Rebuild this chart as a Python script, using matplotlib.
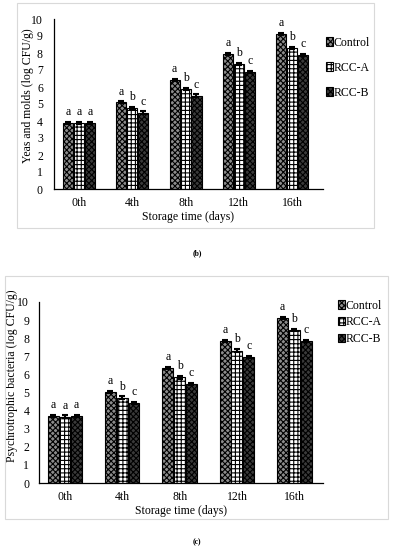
import matplotlib
matplotlib.use("Agg")
import matplotlib.pyplot as plt
from matplotlib.patches import Rectangle
import numpy as np

plt.rcParams['font.family'] = ['Liberation Serif', 'DejaVu Serif']
plt.rcParams['hatch.linewidth'] = 0.8

categories = ["0th", "4th", "8th", "12th", "16th"]
series = ["Control", "RCC-A", "RCC-B"]

yeast_control = [3.91, 5.09, 6.42, 7.95, 9.12]
yeast_rcca = [3.90, 4.79, 5.87, 7.36, 8.28]
yeast_rccb = [3.88, 4.50, 5.50, 6.91, 7.90]
yeast_err = [0.06, 0.06, 0.06, 0.06, 0.06]

psy_control = [3.68, 5.04, 6.37, 7.84, 9.13]
psy_rcca = [3.67, 4.72, 5.83, 7.32, 8.45]
psy_rccb = [3.68, 4.43, 5.48, 6.97, 7.84]
psy_err = [0.06, 0.06, 0.06, 0.06, 0.06]

letters = [["a", "a", "a", "a", "a"],
           ["a", "b", "b", "b", "b"],
           ["a", "c", "c", "c", "c"]]

W, H = 394, 550
fig = plt.figure(figsize=(W / 100, H / 100), dpi=100)

def px_axes(l, t, r, b):
    return fig.add_axes([l / W, 1 - b / H, (r - l) / W, (b - t) / H])

def frame(l, t, r, b):
    fig.patches.append(Rectangle((l / W, 1 - b / H), (r - l) / W, (b - t) / H,
                                 transform=fig.transFigure, fill=False,
                                 edgecolor='#d9d9d9', linewidth=0.8))

styles = [dict(facecolor='#8c8c8c', hatch='xxxxxx'),
          dict(facecolor='white', hatch='++++'),
          dict(facecolor='#3a3a3a', hatch='xxxxxx')]

FS = 8.5

def draw(ax, vals, err, ylabel, xlim, ypad):
    x = np.arange(len(categories))
    bw = 0.19
    gap = 0.015
    handles = []
    for i, v in enumerate(vals):
        off = (i - 1) * (bw + gap)
        bars = ax.bar(x + off, v, bw, yerr=err, edgecolor='black', linewidth=0.8,
                      error_kw=dict(ecolor='black', elinewidth=1.5, capsize=2.2, capthick=1.5),
                      label=series[i], **styles[i])
        handles.append(bars)
        for j, val in enumerate(v):
            ax.text(x[j] + off, val + err[j] + 0.22, letters[i][j], ha='center',
                    va='bottom', fontsize=FS)
    ax.set_ylim(0, 10)
    ax.set_xlim(*xlim)
    ax.set_yticks(range(0, 11))
    ax.set_xticks(x)
    ax.set_xticklabels(categories, fontsize=FS)
    ax.tick_params(axis='y', length=0, labelsize=FS, pad=ypad)
    ax.tick_params(axis='x', length=0, labelsize=FS, pad=6)
    for s in ['top', 'right']:
        ax.spines[s].set_visible(False)
    ax.spines['left'].set_linewidth(0.9)
    ax.spines['bottom'].set_linewidth(0.9)
    ax.set_xlabel("Storage time (days)", fontsize=FS, labelpad=1)
    ax.set_ylabel(ylabel, fontsize=FS)
    return handles

# top chart (b)
frame(17, 3, 374, 228)
ax1 = px_axes(54, 19, 323, 189)
h1 = draw(ax1, [yeast_control, yeast_rcca, yeast_rccb], yeast_err,
          "Yeas and molds (log CFU/g)", (-0.47, 4.58), 8)
ax1.yaxis.set_label_coords((34 - 54) / (323 - 54), 0.55)
fig.legend(handles=h1, labels=series, loc='upper left',
           bbox_to_anchor=(321 / W, 1 - 32 / H), frameon=False, fontsize=FS,
           handlelength=0.6, handleheight=0.7, handletextpad=0.1, labelspacing=1.1,
           borderaxespad=0)
fig.text(197 / W, 1 - 253 / H, "(b)", ha='center', va='center', fontsize=5.5,
         fontweight='bold')

# bottom chart (c)
frame(5, 276, 388, 519)
ax2 = px_axes(39, 302, 323, 483)
h2 = draw(ax2, [psy_control, psy_rcca, psy_rccb], psy_err,
          "Psychrotrophic bacteria (log CFU/g)", (-0.45, 4.5), 7)
ax2.yaxis.set_label_coords((18 - 39) / (323 - 39), 0.59)
fig.legend(handles=h2, labels=series, loc='upper left',
           bbox_to_anchor=(333 / W, 1 - 295 / H), frameon=False, fontsize=FS,
           handlelength=0.6, handleheight=0.7, handletextpad=0.1, labelspacing=0.4,
           borderaxespad=0)
fig.text(197 / W, 1 - 542 / H, "(c)", ha='center', va='center', fontsize=5.5,
         fontweight='bold')

fig.savefig("out.png", dpi=100)
